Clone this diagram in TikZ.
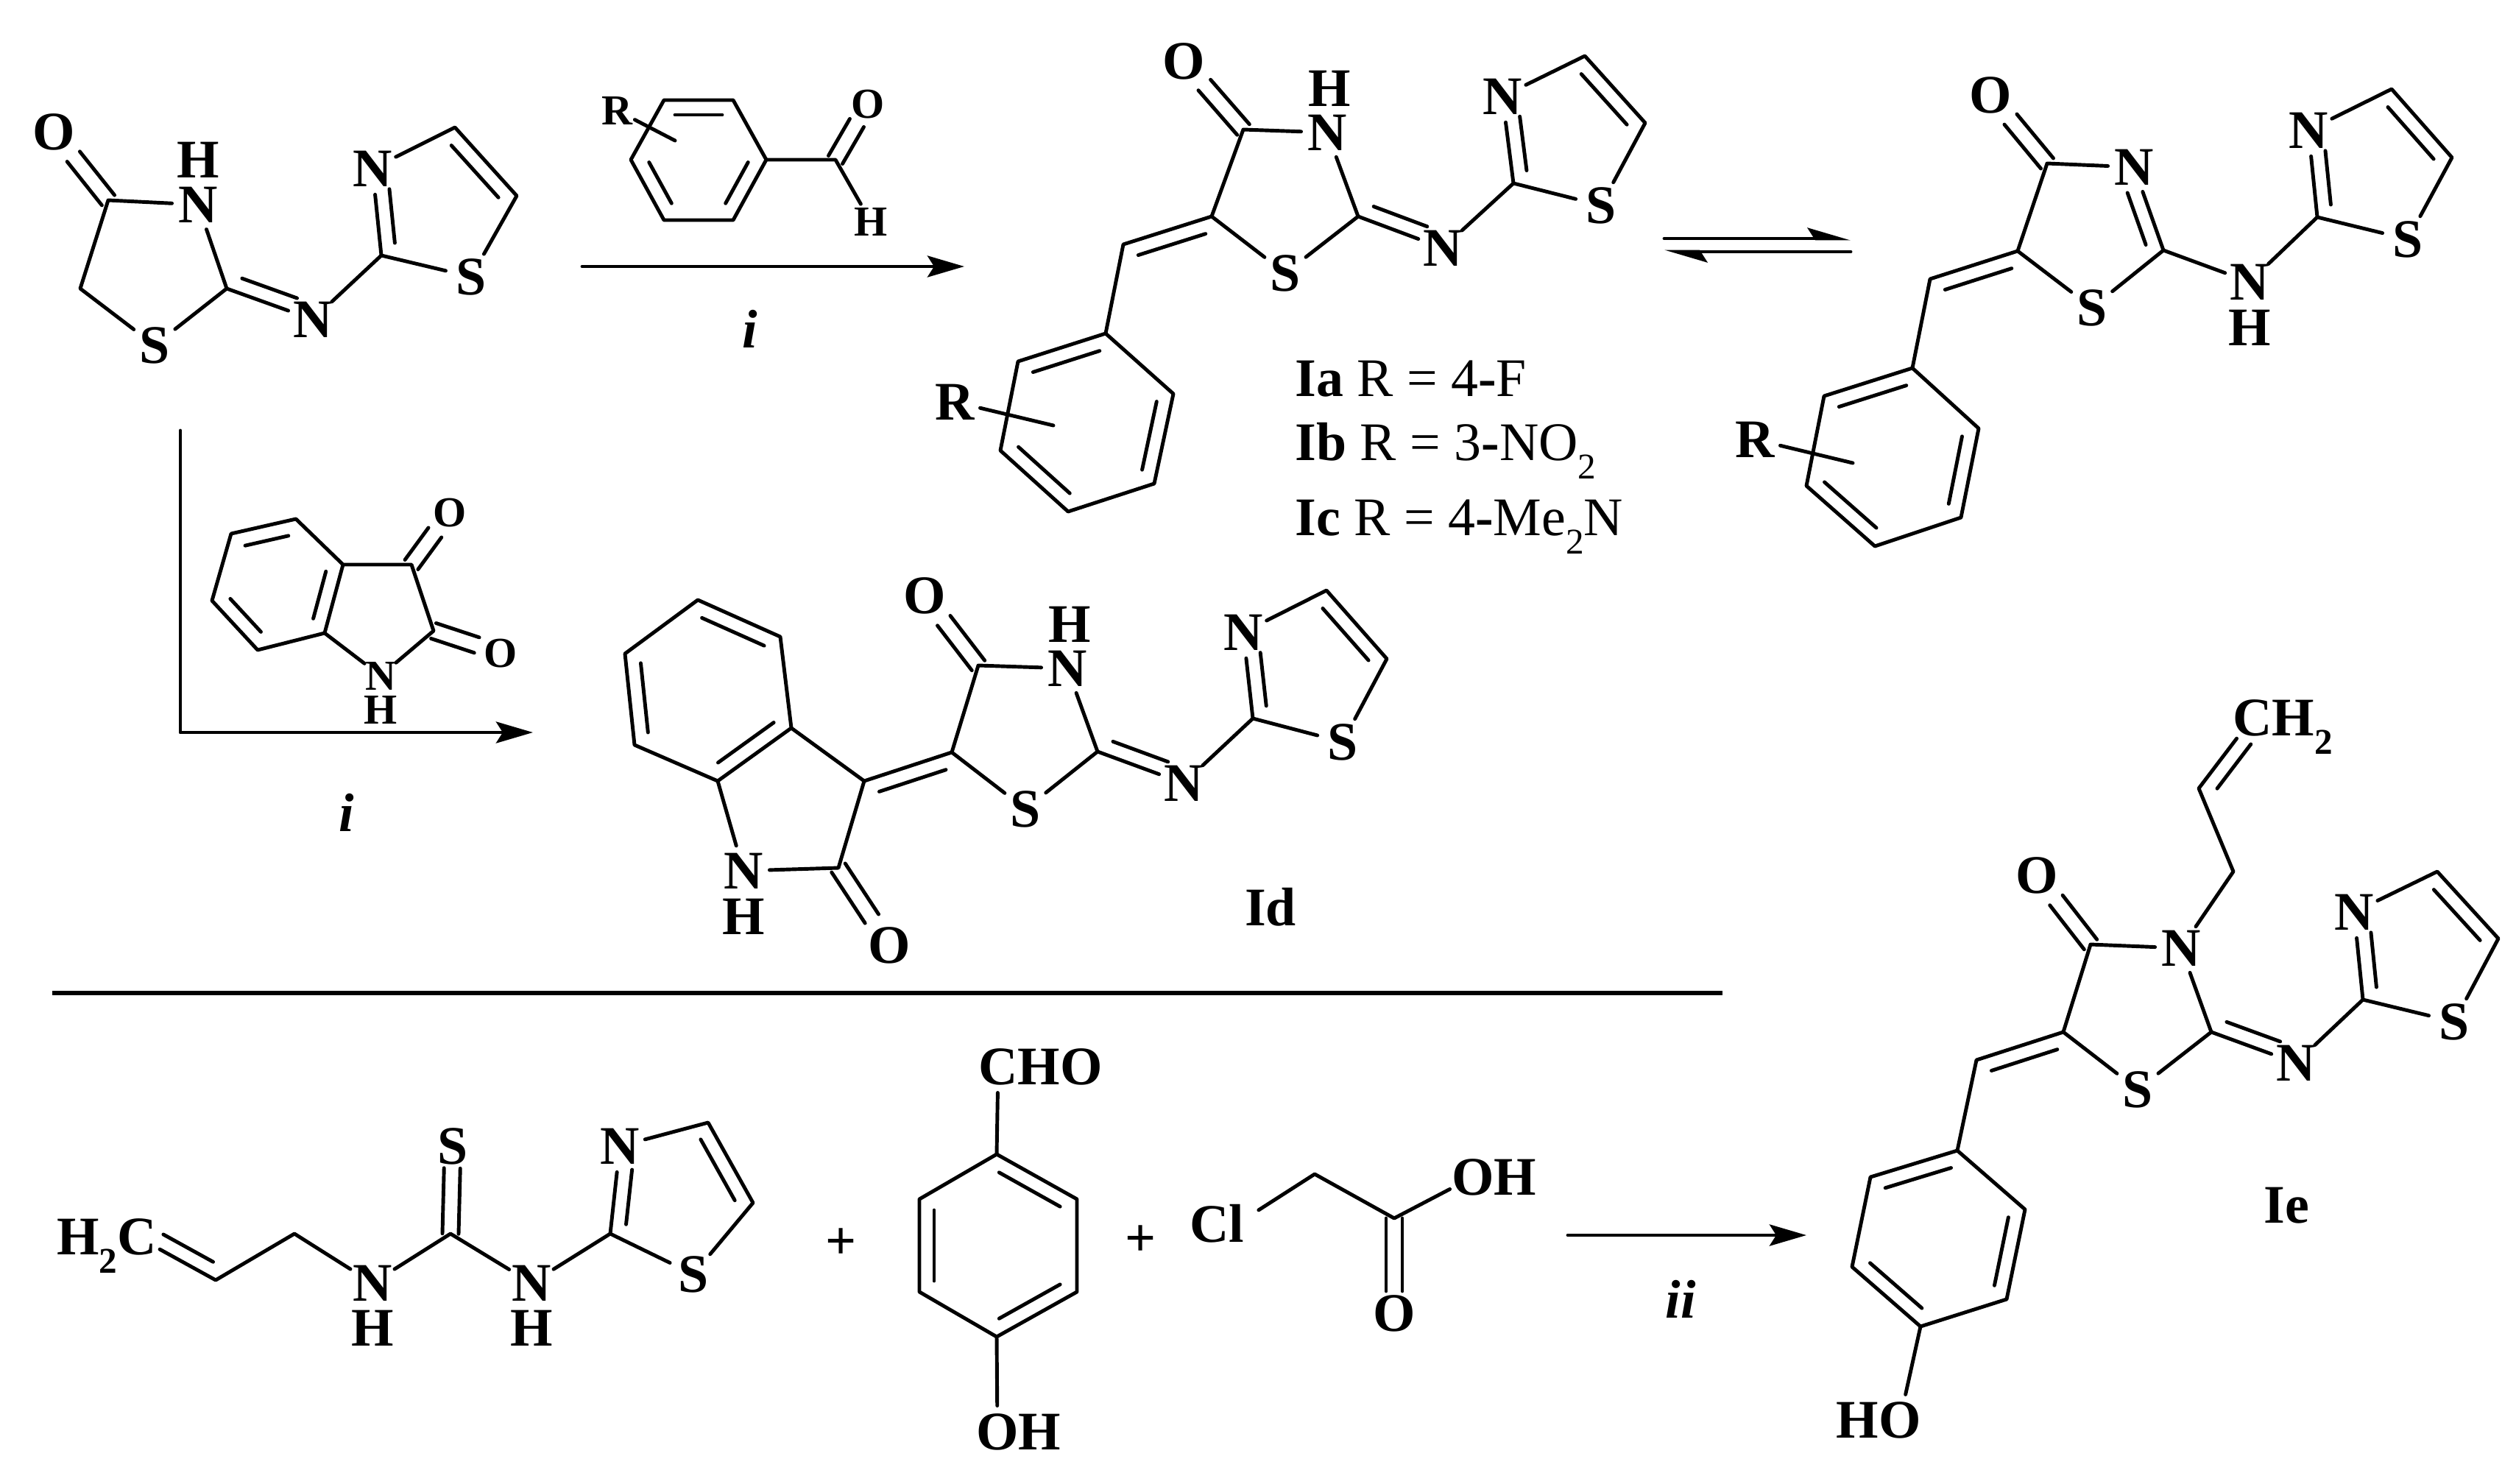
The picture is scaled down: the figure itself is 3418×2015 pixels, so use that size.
\documentclass[tikz,border=0pt]{standalone}
\usepackage{fontspec}
\setmainfont{Liberation Serif}
\usetikzlibrary{calc,arrows.meta}
% centred on the capital letter, the box takes no room
\newcommand\lbl[1]{\makebox[0pt]{\raisebox{-.33em}[0pt][0pt]{#1}}}
\newcommand\low[1]{\raisebox{-.25cm}{\fontsize{14}{14}\selectfont #1}}
% inner line of a double bond, on the left of a->b
\newcommand\dbl[2]{\draw ($(#1)!.15cm!(#2)!.2cm!90:(#2)$) -- ($(#2)!.15cm!(#1)!.2cm!-90:(#1)$);}
\newcommand\dbn[3][]{\draw ($(#2)!.15cm!(#3)!#1.2cm!90:(#3)$) -- ($(#3)!.3cm!(#2)!#1.2cm!-90:(#2)$);}
% C=O with two lines round the axis
\newcommand\twin[3][.43cm]{
  \draw ($(#2)!.11cm!90:(#3)$) -- ($(#3)!#1!(#2)!.11cm!-90:(#2)$);
  \draw ($(#2)!.11cm!-90:(#3)$) -- ($(#3)!#1!(#2)!.11cm!90:(#2)$);}
\newcommand\benz[1]{
  \draw (#11)--(#12)--(#13)--(#14)--(#15)--(#16)--cycle;
  \dbl{#11}{#12} \dbl{#13}{#14} \dbl{#15}{#16}}
\newcommand\thz[1]{
  \draw (#12)--(#1S)--(#15)--(#14)--(#1N)--(#12);
  \dbl{#15}{#14} \dbn[-]{#12}{#1N}}
\newcommand\core[1]{
  \draw (#14)--(#1N)--(#12)--(#1S)--(#15)--(#14);
  \twin{#14}{#1O}}
\tikzset{
  atom/.style={circle,inner sep=0pt,minimum size=.66cm,font=\fontsize{21}{24}\selectfont\bfseries},
  small/.style={minimum size=.5cm,font=\fontsize{16.5}{20}\selectfont\bfseries},
  legend/.style={anchor=base west,inner sep=0pt,font=\fontsize{21}{24}\selectfont},
  cond/.style={inner sep=0pt,font=\fontsize{21}{24}\selectfont\bfseries\itshape},
  rxn/.style={-{Stealth[length=.5cm,width=.29cm,inset=.09cm]}},
  eqm/.style={-{Stealth[length=.5cm,width=.29cm,inset=.09cm,harpoon]}}
}
\begin{document}
\begin{tikzpicture}[x=.01cm,y=-.01cm,line width=1.4pt,line cap=round,line join=round]
  \useasboundingbox (0,0) rectangle (3418,2015);
  % carbons and free ends
  \foreach \n/\x/\y in {
    a4/147/272,a2/308/392,a5/109/392,at2/518/347,at5/702/266,at4/618/173,
    rp1/996/136,rp2/902/136,rp3/857/217,rp4/902/299,rp5/996/299,rp6/1041/217,rc/1135/217,rr/917/191,
    b4/1689/176,b2/1845/294,b5/1646/294,bch/1526/332,bt2/2056/249,bt5/2235/167,bt4/2153/76,
    bp1/1502/453,bp2/1383/491,bp3/1359/612,bp4/1451/695,bp5/1568/657,bp6/1594/535,br/1431/578,
    c4/2781/222,c2/2939/340,c5/2741/341,cch/2622/379,ct2/3148/295,ct5/3331/214,ct4/3249/121,
    cp1/2598/500,cp2/2478/538,cp3/2454/660,cp4/2547/742,cp5/2664/703,cp6/2688/582,cr/2517/629,
    ip1/402/705,ip2/314/725,ip3/288/816,ip4/350/883,ip5/441/860,ip6/466/767,i3/559/767,i2/589/857,
    dp1/1060/865,dp2/948/815,dp3/849/888,dp4/862/1012,dp5/975/1061,dp6/1075/989,d3/1174/1061,dc/1139/1179,
    d4/1329/904,d5/1293/1022,d2/1491/1021,dt2/1702/976,dt5/1884/895,dt4/1802/802,
    f1/293/1739,f2/400/1676,fc/612/1676,ft2/829/1676,ft5/1023/1634,ft4/962/1525,
    hp1/1463/1629,hp2/1354/1568,hp3/1249/1629,hp4/1249/1755,hp5/1354/1816,hp6/1463/1755,
    g1/1786/1595,g2/1894/1655,
    ev/2987/1071,ew/3034/1184,e4/2840/1283,e2/3004/1402,e5/2803/1402,ech/2685/1440,
    et2/3210/1358,et5/3394/1275,et4/3311/1184,
    ep1/2659/1563,ep2/2541/1599,ep3/2516/1721,ep4/2609/1802,ep5/2726/1765,ep6/2751/1643,
    v0/245/585,v1/245/995,v2/724/995,m0/791/362,m1/1310/362,
    u0/2261/324,u1/2514/324,w0/2514/342,w1/2261/342,k0/2130/1678,k1/2454/1678,
    s0/71/1349,s1/2340/1349}
    \coordinate (\n) at (\x,\y);
  % atom labels
  \foreach \n/\x/\y/\t in {
    aO/73/179/O,aN/269/278/N,aH/269/217/H,aS/210/469/S,ai/425/434/N,atS/640/376/S,atN/506/229/N,
    bO/1608/83/O,bN/1803/180/N,bH/1806/120/H,bS/1746/371/S,bi/1960/337/N,btS/2175/279/S,btN/2041/131/N,bR/1297/546/R,
    cO/2704/129/O,cN/2899/227/N,cS/2842/418/S,ci/3056/383/N,cH/3056/445/H,ctS/3271/325/S,ctN/3136/177/N,cR/2384/597/R,
    dO/1256/809/O,dN/1450/908/N,dH/1453/848/H,dS/1393/1099/S,di/1608/1064/N,dtS/1824/1008/S,dtN/1689/859/N,
    dpN/1010/1183/N,dpH/1010/1245/H,dpO/1208/1284/O,
    fC/186/1680/{\llap{H\low{2}}C},fa/506/1743/N,fx/506/1804/H,fS/615/1557/S,fb/722/1743/N,fy/722/1804/H,ftS/942/1731/S,ftN/842/1557/N,
    hCHO/1356/1449/{C\rlap{HO}},hOH/1355/1945/{O\rlap{H}},
    gCl/1680/1663/{\llap{C}l},gOH/2001/1599/{O\rlap{H}},gO/1894/1784/O,
    eC/3060/975/{C\rlap{H\low{2}}},eO/2767/1189/O,eN/2963/1288/N,eS/2904/1480/S,ei/3119/1444/N,etS/3334/1388/S,etN/3198/1239/N,eHO/2581/1929/{\llap{H}O}}
    \node[atom] (\n) at (\x,\y) {\lbl{\t}};
  \foreach \n/\x/\y/\t in {
    rR/838/150/R,rO/1179/141/O,rH/1183/301/H,
    iO3/611/696/O,iO2/680/887/O,iN/517/918/N,iH/517/964/H}
    \node[atom,small] (\n) at (\x,\y) {\lbl{\t}};
  % starting thione
  \core{a} \draw (a2)--(ai)--(at2); \dbn{a2}{ai} \thz{at}
  % aldehyde
  \benz{rp}
  \draw (rp6)--(rc)--(rH);
  \twin[.3cm]{rc}{rO}
  \draw (rR)--(rr);
  % products Ia-c and tautomer
  \core{b} \draw (b2)--(bi)--(bt2); \dbn{b2}{bi} \thz{bt}
  \draw (b5)--(bch)--(bp1); \dbl{b5}{bch} \benz{bp}
  \draw (bR)--(br);
  \core{c} \dbn{c2}{cN} \draw (c2)--(ci)--(ct2); \thz{ct}
  \draw (c5)--(cch)--(cp1); \dbl{c5}{cch} \benz{cp}
  \draw (cR)--(cr);
  % isatin
  \benz{ip}
  \draw (ip6)--(i3)--(i2)--(iN)--(ip5);
  \twin[.34cm]{i3}{iO3} \twin[.34cm]{i2}{iO2}
  % Id
  \benz{dp}
  \draw (dp6)--(d3)--(dc)--(dpN)--(dp5);
  \twin{dc}{dpO}
  \draw (d3)--(d5); \dbl{d5}{d3}
  \core{d} \draw (d2)--(di)--(dt2); \dbn{d2}{di} \thz{dt}
  % thiourea
  \draw (fC)--(f1)--(f2)--(fa)--(fc)--(fb)--(ft2); \dbn[-]{f1}{fC}
  \twin[.3cm]{fc}{fS} \thz{ft}
  % hydroxybenzaldehyde
  \benz{hp}
  \draw (hCHO)--(hp2);
  \draw (hp5)--(hOH);
  % chloroacetic acid
  \draw (gCl)--(g1)--(g2)--(gOH);
  \twin[.3cm]{g2}{gO}
  % Ie
  \core{e} \draw (e2)--(ei)--(et2); \dbn{e2}{ei} \thz{et}
  \draw (eN)--(ew)--(ev)--(eC); \dbn[-]{ev}{eC}
  \draw (e5)--(ech)--(ep1); \dbl{e5}{ech} \benz{ep}
  \draw (ep4)--(eHO);
  % arrows
  \draw[rxn] (m0)--(m1);
  \draw[rxn] (v0)--(v1)--(v2);
  \draw[rxn] (k0)--(k1);
  \draw[eqm] (u0)--(u1);
  \draw[eqm] (w0)--(w1);
  \draw[line width=1.6pt,line cap=butt] (s0)--(s1);
  % texts
  \node[cond] (condi) at (1019,447) {i};
  \node[cond] (condj) at (471,1104) {i};
  \node[cond] (condk) at (2283,1765) {ii};
  \node[legend] (la) at (1757,538) {\textbf{Ia} R = 4\textbf{-}F};
  \node[legend] (lb) at (1757,625) {\textbf{Ib} R = 3\textbf{-}NO\low{2}};
  \node[legend] (lc) at (1757,727) {\textbf{Ic} R = 4\textbf{-}Me\low{2}N};
  \node[atom] (ld) at (1726,1233) {\lbl{Id}};
  \node[atom] (le) at (3106,1637) {\lbl{Ie}};
  \node[atom] (plusa) at (1143,1686) {\lbl{+}};
  \node[atom] (plusb) at (1550,1682) {\lbl{+}};
\end{tikzpicture}
\end{document}
